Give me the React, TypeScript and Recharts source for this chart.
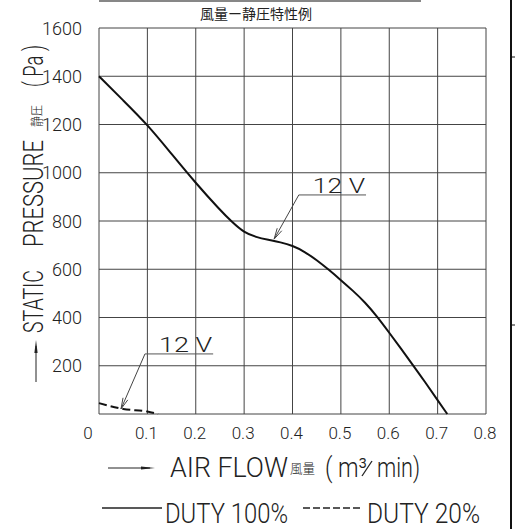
import { LineChart, Line, XAxis, YAxis, CartesianGrid, Legend, ReferenceLine, Label, Customized } from 'recharts'

const flow100 = [0, 0.05, 0.1, 0.15, 0.2, 0.25, 0.275, 0.3, 0.325, 0.35, 0.375, 0.4, 0.425, 0.45, 0.475, 0.5, 0.525, 0.55, 0.575, 0.6, 0.625, 0.65, 0.675, 0.7, 0.72]
const pressure100 = [1400, 1300, 1200, 1078, 957, 846, 796, 752, 733, 722, 712, 698, 673, 638, 598, 555, 511, 463, 404, 337, 269, 200, 130, 57, 0]
const flow20 = [0, 0.05, 0.1, 0.122]
const pressure20 = [45, 21, 10, 0]

const seriesNames = ['DUTY 100%', 'DUTY 20%']
const xTicks = [0, 0.1, 0.2, 0.3, 0.4, 0.5, 0.6, 0.7, 0.8]
const yTicks = [0, 200, 400, 600, 800, 1000, 1200, 1400, 1600]

const title = '風量ー静圧特性例'
const noteLabel = '12  V'

// leader notes: underline from (x1..x2, y), arrow down to (tipX, tipY)
const notes = [
  { x1: 0.413, x2: 0.552, y: 908, tipX: 0.362, tipY: 725 },
  { x1: 0.095, x2: 0.236, y: 249, tipX: 0.0455, tipY: 21 },
]

const data100 = flow100.map((q, i) => ({ q, p: pressure100[i] }))
const data20 = flow20.map((q, i) => ({ q, p: pressure20[i] }))

const FONT = 'Roboto, "Liberation Sans", sans-serif'
const INK = '#222'

const XTick = (props: any) => {
  const { x, y, payload } = props
  const shift = payload.value === 0 ? -11 : -1
  return (
    <text x={x + shift} y={y + 19} textAnchor="middle" dominantBaseline="central" fontSize={17} fontFamily={FONT} fontWeight={300} fill={INK}>
      {payload.value === 0 ? '0' : payload.value.toFixed(1)}
    </text>
  )
}

const YTick = (props: any) => {
  const { x, y, payload } = props
  if (payload.value === 0) return null
  return (
    <text x={x - 17} y={y} textAnchor="end" dominantBaseline="central" fontSize={18} fontFamily={FONT} fontWeight={300} fill={INK}>
      {payload.value}
    </text>
  )
}

const Underline = (p: any) => {
  const { x1, y1, x2 } = p
  return (
    <g>
      <line x1={x1} y1={y1} x2={x2} y2={y1} stroke="#555" strokeWidth={1} />
      <text x={x1 + 14} y={y1 - 2} textLength={x2 - x1 - 15} lengthAdjust="spacingAndGlyphs" fontSize={21} fontFamily={FONT} fontWeight={300} fill={INK}>
        {noteLabel}
      </text>
    </g>
  )
}

const arrowHead = (x1: number, y1: number, x2: number, y2: number, len: number, half: number) => {
  const a = Math.atan2(y2 - y1, x2 - x1)
  const c = Math.cos(a)
  const s = Math.sin(a)
  const bx = x2 - len * c
  const by = y2 - len * s
  return `${bx + half * s},${by - half * c} ${x2},${y2} ${bx - half * s},${by + half * c}`
}

const Leader = (p: any) => {
  const { x1, y1, x2, y2 } = p
  return (
    <g>
      <line x1={x1} y1={y1} x2={x2} y2={y2} stroke="#444" strokeWidth={1} />
      <polyline points={arrowHead(x1, y1, x2, y2, 11, 2.6)} fill="none" stroke="#444" strokeWidth={1} />
    </g>
  )
}

const XLabel = () => (
  <g fontFamily={FONT} fontWeight={300} fill={INK}>
    <line x1={108} y1={468} x2={150} y2={468} stroke={INK} strokeWidth={1} />
    <polygon points={arrowHead(108, 468, 155, 468, 14, 1.6)} fill={INK} />
    <text x={170} y={477} fontSize={27} textLength={118} lengthAdjust="spacingAndGlyphs">AIR FLOW</text>
    <text x={290} y={473} fontSize={13} textLength={25} lengthAdjust="spacingAndGlyphs" fontFamily='"Noto Sans CJK JP", sans-serif'>風量</text>
    <text x={325} y={477} fontSize={27} textLength={42} lengthAdjust="spacingAndGlyphs">( m³</text>
    <line x1={362} y1={476} x2={372} y2={461} stroke={INK} strokeWidth={1.3} />
    <text x={377} y={477} fontSize={27} textLength={43} lengthAdjust="spacingAndGlyphs">min)</text>
  </g>
)

const YLabel = () => (
  <g fontFamily={FONT} fontWeight={300} fill={INK}>
    <line x1={36} y1={382} x2={36} y2={346} stroke={INK} strokeWidth={1} />
    <polygon points={arrowHead(36, 382, 36, 340, 13, 1.6)} fill={INK} />
    <text transform="translate(43,333) rotate(-90)" fontSize={27} textLength={63} lengthAdjust="spacingAndGlyphs">STATIC</text>
    <text transform="translate(43,247) rotate(-90)" fontSize={27} textLength={107} lengthAdjust="spacingAndGlyphs">PRESSURE</text>
    <text transform="translate(41,127) rotate(-90)" fontSize={13} textLength={22} lengthAdjust="spacingAndGlyphs" fontFamily='"Noto Sans CJK JP", sans-serif'>静圧</text>
    <text transform="translate(43,87) rotate(-90)" fontSize={27} textLength={42} lengthAdjust="spacingAndGlyphs">( Pa )</text>
  </g>
)

const Decor = () => (
  <g>
    <line x1={99} y1={1} x2={421} y2={1} stroke="#111" strokeWidth={1.2} />
    <text x={256} y={13} textAnchor="middle" dominantBaseline="central" fontSize={14} fontFamily='"Noto Sans CJK JP", sans-serif' fill={INK}>
      {title}
    </text>
    <line x1={511} y1={0} x2={511} y2={529} stroke="#111" strokeWidth={2} />
    <line x1={512} y1={57} x2={515} y2={57} stroke="#111" strokeWidth={1} />
    <line x1={512} y1={325} x2={515} y2={325} stroke="#111" strokeWidth={1} />
  </g>
)

const legendSlots = [
  { lx1: 102, lx2: 162, tx: 165, tw: 123 },
  { lx1: 303, lx2: 362, tx: 367, tw: 113 },
]

const LegendContent = (props: any) => {
  const payload = props.payload || []
  return (
    <svg width={515} height={39} style={{ display: 'block', overflow: 'visible' }}>
      {payload.map((entry: any, i: number) => {
        const s = legendSlots[i]
        if (!s) return null
        const dash = entry.payload?.strokeDasharray
        return (
          <g key={entry.value}>
            <line x1={s.lx1} y1={18} x2={s.lx2} y2={18} stroke={INK} strokeWidth={1.5} strokeDasharray={dash ? '7 3' : undefined} />
            <text x={s.tx} y={33} fontSize={27} textLength={s.tw} lengthAdjust="spacingAndGlyphs" fontFamily={FONT} fontWeight={300} fill={INK}>
              {entry.value.replace(' ', '  ')}
            </text>
          </g>
        )
      })}
    </svg>
  )
}

export default function App() {
  return (
    <div style={{ position: 'absolute', left: 0, top: 0, width: 515, height: 529, background: '#fff' }}>
      <LineChart width={515} height={529} margin={{ top: 28, right: 29, left: 0, bottom: 16 }}>
        <CartesianGrid stroke="#444" strokeWidth={1} />
        <XAxis
          dataKey="q"
          type="number"
          domain={[0, 0.8]}
          ticks={xTicks}
          height={60}
          axisLine={false}
          tickLine={false}
          tickSize={0}
          tickMargin={0}
          tick={<XTick />}
          interval={0}
        >
          <Label content={<XLabel />} />
        </XAxis>
        <YAxis
          type="number"
          domain={[0, 1600]}
          ticks={yTicks}
          width={99}
          axisLine={false}
          tickLine={false}
          tickSize={0}
          tickMargin={0}
          tick={<YTick />}
          interval={0}
        >
          <Label content={<YLabel />} />
        </YAxis>
        <Line
          data={data100}
          dataKey="p"
          name={seriesNames[0]}
          type="basis"
          stroke="#111"
          strokeWidth={2}
          dot={false}
          activeDot={false}
          isAnimationActive={false}
        />
        <Line
          data={data20}
          dataKey="p"
          name={seriesNames[1]}
          type="monotone"
          stroke="#111"
          strokeWidth={2}
          strokeDasharray="8 4"
          dot={false}
          activeDot={false}
          isAnimationActive={false}
        />
        {notes.map((n, i) => (
          <ReferenceLine key={`u${i}`} segment={[{ x: n.x1, y: n.y }, { x: n.x2, y: n.y }]} shape={<Underline />} />
        ))}
        {notes.map((n, i) => (
          <ReferenceLine key={`a${i}`} segment={[{ x: n.x1, y: n.y }, { x: n.tipX, y: n.tipY }]} shape={<Leader />} />
        ))}
        <Legend height={39} content={<LegendContent />} wrapperStyle={{ left: 0, top: 490, width: 515, height: 39 }} />
        <Customized component={<Decor />} />
      </LineChart>
    </div>
  )
}
